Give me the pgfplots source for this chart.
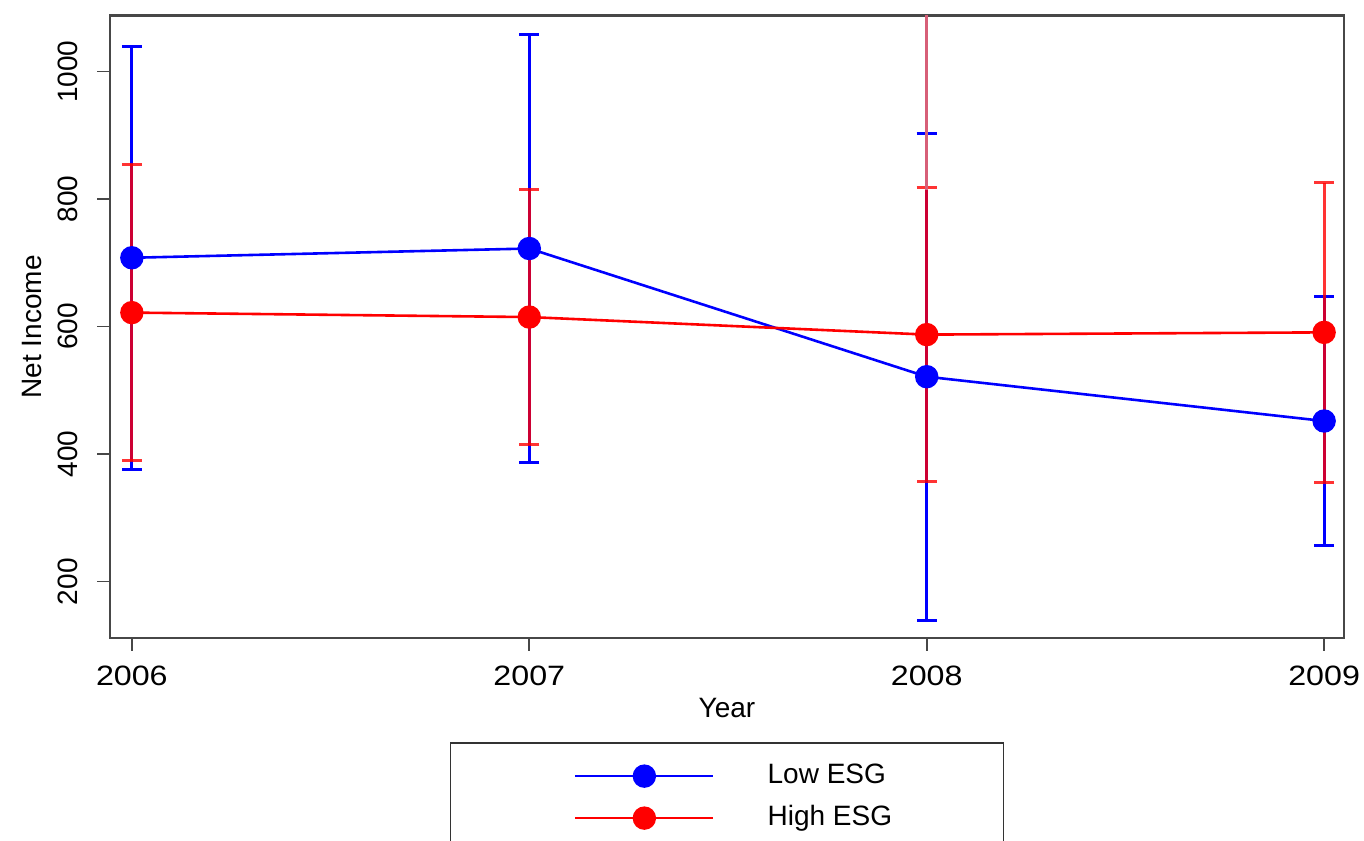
\documentclass[border=0pt]{standalone}
\usepackage{graphicx}
\usepackage{pgfplots}
\pgfplotsset{compat=1.18}
\usepackage{pgfplotstable}
\usepackage{fontspec}
\setmainfont{Liberation Sans}

\pgfplotstableread{
year mean err
2006 708   332
2007 722.5 335
2008 521.5 382
2009 452   195
}\lowdata
\pgfplotstableread{
year mean err
2006 622 232.5
2007 615 200
2008 587.5 230
2009 591 235
}\highdata

\newcommand{\fs}{\fontsize{14}{16.8}\selectfont}

\begin{document}
\begin{tikzpicture}
\begin{axis}[
  at={(0,0)}, anchor=south west,
  scale only axis, width=617pt, height=311pt,
  xmin=2005.945, xmax=2009.05, ymin=112, ymax=1087.5,
  xtick={2006,2007,2008,2009},
  xticklabels={\scalebox{1.15}[1]{2006},\scalebox{1.15}[1]{2007},\scalebox{1.15}[1]{2008},\scalebox{1.15}[1]{2009}},
  ytick={200,400,600,800,1000},
  /pgf/number format/assume math mode=true,
  /pgf/number format/1000 sep={},
  axis line style={black!72, line width=1.3pt},
  tick style={black!72, line width=0.8pt},
  tick align=outside, major tick length=6.5pt,
  tick pos=left,
  every tick label/.append style={font=\fs},
  yticklabel style={rotate=90, anchor=south, inner sep=0pt, yshift=9.5pt},
  xticklabel style={anchor=north, inner sep=0pt, yshift=-7.5pt},
  xlabel={Year}, ylabel={Net Income},
  label style={font=\fs},
  xlabel style={at={(axis description cs:0.5,0)}, anchor=base, yshift=-39.75pt, inner sep=0pt},
  ylabel style={at={(axis description cs:0,0.5)}, anchor=base, yshift=34pt, inner sep=0pt},
  legend style={at={(0.5,-0.168)}, anchor=north, draw=black!80, line width=0.8pt,
    inner xsep=0pt, inner ysep=6pt, column sep=24.5pt, row sep=0pt, font=\fs,
    cells={anchor=west, inner sep=0pt}},
  legend image code/.code={
    \path[draw=none, fill=none] (-62.5pt,0pt) -- (0pt,0pt);
    \draw[mark repeat=2,mark phase=2,#1] plot coordinates {(0pt,0pt) (34.5pt,0pt) (69pt,0pt)};
  },
]
% confidence intervals
\addplot[only marks, mark=none, forget plot,
  error bars/.cd, y dir=both, y explicit,
  error bar style={blue, line width=1.5pt},
  error mark options={rotate=90, blue, line width=1.5pt, mark size=5pt}]
  table[x=year, y=mean, y error=err] {\lowdata};
\addplot[only marks, mark=none, forget plot,
  error bars/.cd, y dir=both, y explicit,
  error bar style={red, opacity=0.8, line width=1.5pt},
  error mark options={rotate=90, red, opacity=0.8, line width=1.5pt, mark size=5pt}]
  table[x=year, y=mean, y error=err] {\highdata};
\addplot[forget plot, color={rgb,255:red,215;green,95;blue,120}, line width=1.5pt]
  coordinates {(2008,815) (2008,1200)};
% means
\addplot[blue, line width=1.3pt, mark=*, mark size=5.2pt, mark options={fill=blue}]
  table[x=year, y=mean] {\lowdata};
\addlegendentry{\makebox[116pt][l]{\rule[-5.5pt]{0pt}{21pt}\raisebox{3.5pt}{Low ESG}}}
\addplot[red, line width=1.3pt, mark=*, mark size=5.2pt, mark options={fill=red}]
  table[x=year, y=mean] {\highdata};
\addlegendentry{\makebox[116pt][l]{\rule[-5.5pt]{0pt}{21pt}\raisebox{3.5pt}{High ESG}}}
\end{axis}
\pgfresetboundingbox
\useasboundingbox (-55pt,-101.25pt) rectangle (627pt,318.9pt);
\end{tikzpicture}
\end{document}
